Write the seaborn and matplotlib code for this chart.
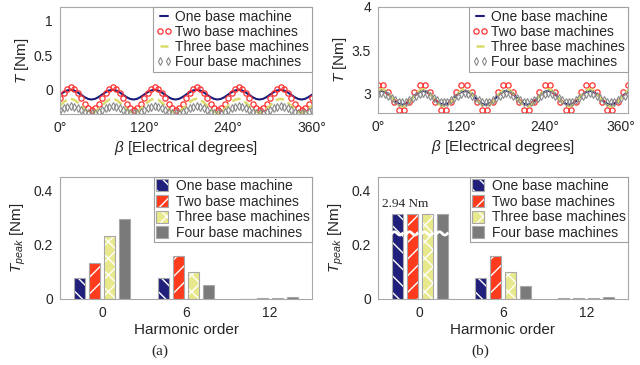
import numpy as np
import pandas as pd
import matplotlib
matplotlib.use("Agg")
import matplotlib.pyplot as plt
import matplotlib.colors as mcolors
import matplotlib.transforms as mtransforms
from matplotlib.lines import Line2D
import seaborn as sns

sns.set_theme(style="white")
plt.rcParams['font.family'] = ['Liberation Sans', 'DejaVu Sans']
plt.rcParams['mathtext.fontset'] = 'custom'
plt.rcParams['mathtext.it'] = 'Liberation Sans:italic'
plt.rcParams['mathtext.rm'] = 'Liberation Sans'
plt.rcParams['hatch.linewidth'] = 1.0

# ---------------- data ----------------
series_names = ["One base machine", "Two base machines",
                "Three base machines", "Four base machines"]

angle_fine = np.arange(0, 361, 5)       # degrees
angle_coarse = np.arange(0, 361, 7.5)   # degrees

# (a) torque waveforms [Nm]
torque_a_one = [
    -0.070, -0.035, -0.009, 0.000, -0.009, -0.035, -0.070, -0.105, -0.131, -0.140, -0.131, -0.105,
    -0.070, -0.035, -0.009, 0.000, -0.009, -0.035, -0.070, -0.105, -0.131, -0.140, -0.131, -0.105,
    -0.070, -0.035, -0.009, 0.000, -0.009, -0.035, -0.070, -0.105, -0.131, -0.140, -0.131, -0.105,
    -0.070, -0.035, -0.009, 0.000, -0.009, -0.035, -0.070, -0.105, -0.131, -0.140, -0.131, -0.105,
    -0.070, -0.035, -0.009, 0.000, -0.009, -0.035, -0.070, -0.105, -0.131, -0.140, -0.131, -0.105,
    -0.070, -0.035, -0.009, 0.000, -0.009, -0.035, -0.070, -0.105, -0.131, -0.140, -0.131, -0.105,
    -0.070]
torque_a_two = [
    -0.125, -0.045, 0.014, 0.035, 0.014, -0.045, -0.125, -0.205, -0.264, -0.285, -0.264, -0.205,
    -0.125, -0.045, 0.014, 0.035, 0.014, -0.045, -0.125, -0.205, -0.264, -0.285, -0.264, -0.205,
    -0.125, -0.045, 0.014, 0.035, 0.014, -0.045, -0.125, -0.205, -0.264, -0.285, -0.264, -0.205,
    -0.125, -0.045, 0.014, 0.035, 0.014, -0.045, -0.125, -0.205, -0.264, -0.285, -0.264, -0.205,
    -0.125, -0.045, 0.014, 0.035, 0.014, -0.045, -0.125, -0.205, -0.264, -0.285, -0.264, -0.205,
    -0.125, -0.045, 0.014, 0.035, 0.014, -0.045, -0.125, -0.205, -0.264, -0.285, -0.264, -0.205,
    -0.125]
torque_a_three = [
    -0.230, -0.180, -0.143, -0.130, -0.143, -0.180, -0.230, -0.280, -0.317, -0.330, -0.317, -0.280,
    -0.230, -0.180, -0.143, -0.130, -0.143, -0.180, -0.230, -0.280, -0.317, -0.330, -0.317, -0.280,
    -0.230, -0.180, -0.143, -0.130, -0.143, -0.180, -0.230, -0.280, -0.317, -0.330, -0.317, -0.280,
    -0.230, -0.180, -0.143, -0.130, -0.143, -0.180, -0.230, -0.280, -0.317, -0.330, -0.317, -0.280,
    -0.230, -0.180, -0.143, -0.130, -0.143, -0.180, -0.230, -0.280, -0.317, -0.330, -0.317, -0.280,
    -0.230, -0.180, -0.143, -0.130, -0.143, -0.180, -0.230, -0.280, -0.317, -0.330, -0.317, -0.280,
    -0.230]
torque_a_four = [
    -0.290, -0.265, -0.247, -0.240, -0.247, -0.265, -0.290, -0.315, -0.333, -0.340, -0.333, -0.315,
    -0.290, -0.265, -0.247, -0.240, -0.247, -0.265, -0.290, -0.315, -0.333, -0.340, -0.333, -0.315,
    -0.290, -0.265, -0.247, -0.240, -0.247, -0.265, -0.290, -0.315, -0.333, -0.340, -0.333, -0.315,
    -0.290, -0.265, -0.247, -0.240, -0.247, -0.265, -0.290, -0.315, -0.333, -0.340, -0.333, -0.315,
    -0.290, -0.265, -0.247, -0.240, -0.247, -0.265, -0.290, -0.315, -0.333, -0.340, -0.333, -0.315,
    -0.290, -0.265, -0.247, -0.240, -0.247, -0.265, -0.290, -0.315, -0.333, -0.340, -0.333, -0.315,
    -0.290]

# (b) torque waveforms [Nm]
torque_b_one = [
    3.024, 3.035, 3.024, 2.995, 2.955, 2.915, 2.886, 2.875, 2.886, 2.915, 2.955, 2.995,
    3.024, 3.035, 3.024, 2.995, 2.955, 2.915, 2.886, 2.875, 2.886, 2.915, 2.955, 2.995,
    3.024, 3.035, 3.024, 2.995, 2.955, 2.915, 2.886, 2.875, 2.886, 2.915, 2.955, 2.995,
    3.024, 3.035, 3.024, 2.995, 2.955, 2.915, 2.886, 2.875, 2.886, 2.915, 2.955, 2.995,
    3.024, 3.035, 3.024, 2.995, 2.955, 2.915, 2.886, 2.875, 2.886, 2.915, 2.955, 2.995,
    3.024, 3.035, 3.024, 2.995, 2.955, 2.915, 2.886, 2.875, 2.886, 2.915, 2.955, 2.995,
    3.024]
torque_b_two = [
    3.103, 3.103, 3.019, 2.901, 2.817, 2.817, 2.901, 3.019,
    3.103, 3.103, 3.019, 2.901, 2.817, 2.817, 2.901, 3.019,
    3.103, 3.103, 3.019, 2.901, 2.817, 2.817, 2.901, 3.019,
    3.103, 3.103, 3.019, 2.901, 2.817, 2.817, 2.901, 3.019,
    3.103, 3.103, 3.019, 2.901, 2.817, 2.817, 2.901, 3.019,
    3.103, 3.103, 3.019, 2.901, 2.817, 2.817, 2.901, 3.019,
    3.103]
torque_b_three = [
    3.042, 3.055, 3.042, 3.005, 2.955, 2.905, 2.868, 2.855, 2.868, 2.905, 2.955, 3.005,
    3.042, 3.055, 3.042, 3.005, 2.955, 2.905, 2.868, 2.855, 2.868, 2.905, 2.955, 3.005,
    3.042, 3.055, 3.042, 3.005, 2.955, 2.905, 2.868, 2.855, 2.868, 2.905, 2.955, 3.005,
    3.042, 3.055, 3.042, 3.005, 2.955, 2.905, 2.868, 2.855, 2.868, 2.905, 2.955, 3.005,
    3.042, 3.055, 3.042, 3.005, 2.955, 2.905, 2.868, 2.855, 2.868, 2.905, 2.955, 3.005,
    3.042, 3.055, 3.042, 3.005, 2.955, 2.905, 2.868, 2.855, 2.868, 2.905, 2.955, 3.005,
    3.042]
torque_b_four = [
    2.998, 3.005, 2.998, 2.980, 2.955, 2.930, 2.912, 2.905, 2.912, 2.930, 2.955, 2.980,
    2.998, 3.005, 2.998, 2.980, 2.955, 2.930, 2.912, 2.905, 2.912, 2.930, 2.955, 2.980,
    2.998, 3.005, 2.998, 2.980, 2.955, 2.930, 2.912, 2.905, 2.912, 2.930, 2.955, 2.980,
    2.998, 3.005, 2.998, 2.980, 2.955, 2.930, 2.912, 2.905, 2.912, 2.930, 2.955, 2.980,
    2.998, 3.005, 2.998, 2.980, 2.955, 2.930, 2.912, 2.905, 2.912, 2.930, 2.955, 2.980,
    2.998, 3.005, 2.998, 2.980, 2.955, 2.930, 2.912, 2.905, 2.912, 2.930, 2.955, 2.980,
    2.998]

# harmonic spectra [Nm]
harmonics = ["0", "6", "12"]
peak_a_one = [0.078, 0.078, 0.001]
peak_a_two = [0.134, 0.159, 0.002]
peak_a_three = [0.233, 0.099, 0.003]
peak_a_four = [0.295, 0.051, 0.007]
peak_b_one = [2.94, 0.079, 0.002]
peak_b_two = [2.94, 0.160, 0.003]
peak_b_three = [2.94, 0.098, 0.004]
peak_b_four = [2.94, 0.048, 0.006]
dc_label = "2.94 Nm"
bar_display_cap = 0.315   # broken-axis display height of the DC bars in (b)
bar_break_level = 0.242

x_ticks_deg = [0, 60, 120, 180, 240, 300, 360]
x_ticklabels_deg = ["0°", "", "120°", "", "240°", "", "360°"]

# ---------------- style ----------------
c_line_blue = "#1c1c7a"
c_line_red = "#ff3030"
c_line_yellow = "#dcdc6c"
c_line_gray = "#8a8a8a"
bar_colors = ["#20207c", "#ff3b1e", "#e8e88c", "#7a7a7a"]
bar_hatches = ["\\\\", "//", "xx", ""]
spine_c = "#a8a8a8"
text_c = "#262626"

fig = plt.figure(figsize=(6.4, 3.65), dpi=100)
W, H = 640, 365


def px_axes(x0, y0, x1, y1):
    return fig.add_axes([x0 / W, 1 - y1 / H, (x1 - x0) / W, (y1 - y0) / H])


ax_tl = px_axes(60, 7, 312, 114)
ax_tr = px_axes(378, 7, 628, 113)
ax_bl = px_axes(60, 177, 312, 299)
ax_br = px_axes(378, 177, 628, 299)


def style_axes(ax):
    for s in ax.spines.values():
        s.set_color(spine_c)
        s.set_linewidth(0.8)
        s.set_visible(True)
    ax.tick_params(direction="in", length=3, width=0.7, color=spine_c,
                   labelsize=10, labelcolor=text_c, pad=5)
    ax.grid(False)


def wave_panel(ax, one, two, three, four, ylim, yticks):
    sns.lineplot(x=angle_fine, y=one, color=c_line_blue, lw=1.5, ax=ax)
    sns.lineplot(x=angle_fine if len(two) == len(angle_fine) else angle_coarse,
                 y=two, ls="none", marker="o", ms=3.8, mfc="none",
                 mec=c_line_red, mew=0.9, ax=ax)
    sns.lineplot(x=angle_fine, y=three, color=c_line_yellow, lw=1.8,
                 linestyle=(0, (3.5, 1.8)), ax=ax)
    sns.lineplot(x=angle_fine, y=four, ls="none", marker="d", ms=3.6,
                 mfc="none", mec=c_line_gray, mew=0.8, ax=ax)
    ax.set_xlim(0, 360)
    ax.set_ylim(*ylim)
    ax.set_yticks(yticks)
    ax.set_yticklabels([f"{t:g}" for t in yticks])
    ax.set_xticks(x_ticks_deg)
    ax.set_xticklabels(x_ticklabels_deg)
    ax.set_xlabel(r"$\beta$ [Electrical degrees]", fontsize=11, color=text_c, labelpad=3)
    ax.set_ylabel(r"$T$ [Nm]", fontsize=11, color=text_c, labelpad=2)
    style_axes(ax)
    handles = [
        Line2D([], [], color=c_line_blue, lw=1.5),
        Line2D([], [], ls="none", marker="o", ms=3.8, mfc="none", mec=c_line_red, mew=0.9),
        Line2D([], [], color=c_line_yellow, lw=1.8, ls=(0, (3.5, 1.8))),
        Line2D([], [], ls="none", marker="d", ms=3.6, mfc="none", mec=c_line_gray, mew=0.8),
    ]
    leg = ax.legend(handles, series_names, loc="upper right", numpoints=2,
                    borderaxespad=0, fontsize=10, handlelength=1.15,
                    handletextpad=0.25, labelspacing=0.08, borderpad=0.2,
                    fancybox=False, framealpha=1, edgecolor="#a0a0a0")
    leg.get_frame().set_linewidth(0.8)
    for t in leg.get_texts():
        t.set_color(text_c)


def set_white_hatch(p):
    if hasattr(p, "set_hatchcolor"):
        p.set_hatchcolor("white")
    else:
        p._hatch_color = mcolors.to_rgba("white")


def bar_panel(ax, lists, cap=None):
    rows = []
    for name, vals in zip(series_names, lists):
        for h, v in zip(harmonics, vals):
            rows.append({"Harmonic": h, "Series": name,
                         "Tpeak": v if cap is None else min(v, cap)})
    df = pd.DataFrame(rows)
    sns.barplot(data=df, x="Harmonic", y="Tpeak", hue="Series", order=harmonics,
                hue_order=series_names, palette=bar_colors, saturation=1,
                width=0.72, gap=0.28, edgecolor="#a8a8a8", linewidth=0.8,
                errorbar=None, legend=False, ax=ax)
    first_patches = []
    for cont, hatch in zip(ax.containers, bar_hatches):
        for p in cont:
            p.set_hatch(hatch)
            set_white_hatch(p)
        first_patches.append(cont[0])
    ax.set_ylim(0, 0.45)
    ax.set_yticks([0, 0.2, 0.4])
    ax.set_yticklabels(["0", "0.2", "0.4"])
    ax.set_xlim(-0.5, 2.5)
    ax.set_xlabel("Harmonic order", fontsize=11, color=text_c, labelpad=2)
    ax.set_ylabel(r"$T_{peak}$ [Nm]", fontsize=11, color=text_c, labelpad=4)
    style_axes(ax)
    leg = ax.legend(first_patches, series_names, loc="upper right",
                    borderaxespad=0, fontsize=10, handlelength=0.9,
                    handleheight=0.95, handletextpad=0.55, labelspacing=0.12,
                    borderpad=0.15, fancybox=False, framealpha=1,
                    edgecolor="#a0a0a0")
    leg.get_frame().set_linewidth(0.8)
    for t in leg.get_texts():
        t.set_color(text_c)
    return first_patches


wave_panel(ax_tl, torque_a_one, torque_a_two, torque_a_three, torque_a_four,
           (-0.35, 1.2), [0, 0.5, 1])
wave_panel(ax_tr, torque_b_one, torque_b_two, torque_b_three, torque_b_four,
           (2.78, 4.0), [3, 3.5, 4])

# keep the right-most "360°" label inside the figure
last_lbl = ax_tr.get_xticklabels()[-1]
last_lbl.set_transform(last_lbl.get_transform() +
                       mtransforms.ScaledTranslation(-7 / 100, 0, fig.dpi_scale_trans))

bar_panel(ax_bl, [peak_a_one, peak_a_two, peak_a_three, peak_a_four])
firsts = bar_panel(ax_br, [peak_b_one, peak_b_two, peak_b_three, peak_b_four],
                   cap=bar_display_cap)

# broken-bar marks on DC bars of (b)
for p in firsts:
    x0, w = p.get_x(), p.get_width()
    xs = np.linspace(x0 - 0.01, x0 + w + 0.01, 25)
    ys = bar_break_level + 0.006 * np.sin((xs - x0) / w * 2 * np.pi)
    ax_br.plot(xs, ys, color="white", lw=2.0, zorder=5, solid_capstyle="butt")
grp0 = np.mean([p.get_x() + p.get_width() / 2 for p in firsts])
ax_br.text(grp0 - 0.17, bar_display_cap + 0.012, dc_label, ha="center", va="bottom",
           fontsize=9.5, family=["Liberation Serif", "DejaVu Serif"], color=text_c)

fig.text(160 / W, 1 - 351 / H, "(a)", ha="center", va="center", fontsize=11,
         family=["Liberation Serif", "DejaVu Serif"], color=text_c)
fig.text(480 / W, 1 - 351 / H, "(b)", ha="center", va="center", fontsize=11,
         family=["Liberation Serif", "DejaVu Serif"], color=text_c)

fig.savefig("out.png", dpi=100)
